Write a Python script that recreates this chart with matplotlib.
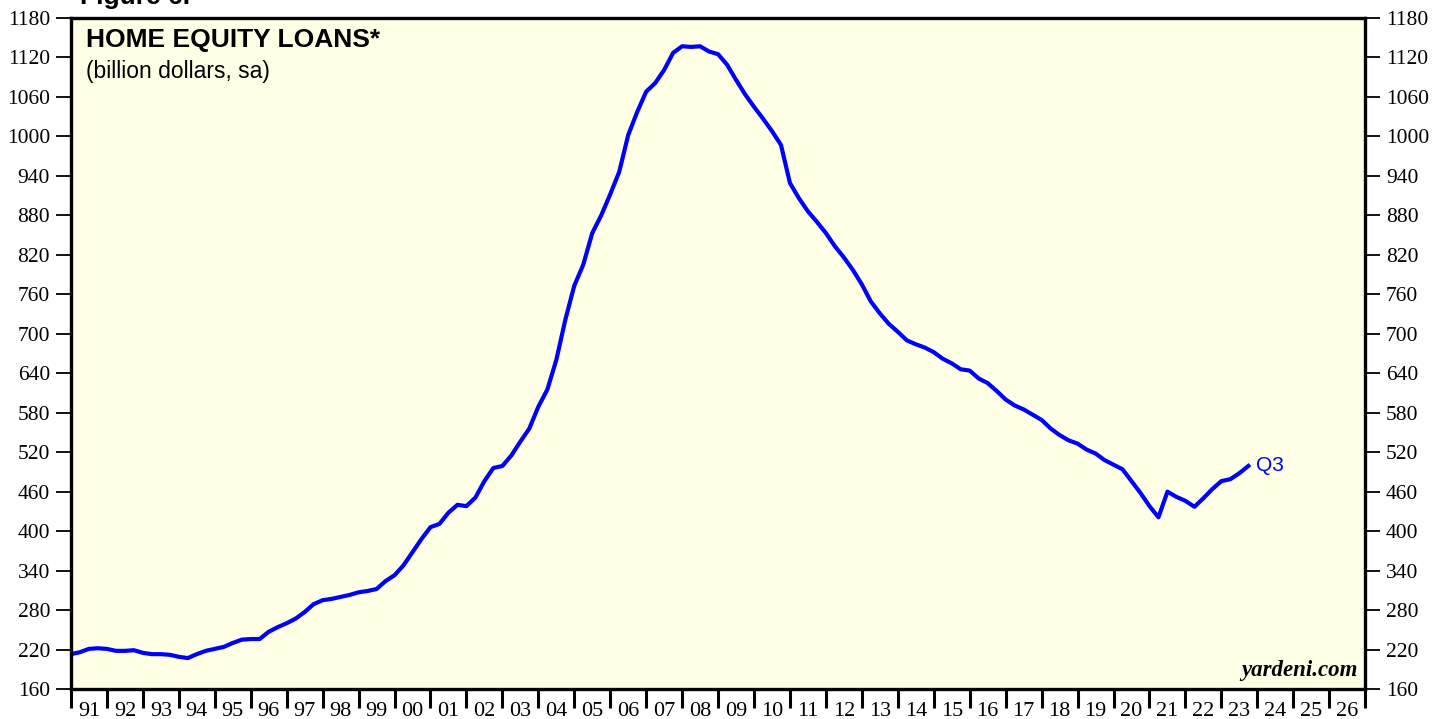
import matplotlib
matplotlib.use('Agg')
import matplotlib.pyplot as plt
import numpy as np
import pandas as pd

# quarterly home equity loans, billion dollars (1990Q4 .. 2023Q3)
first_quarter = '1990Q4'
last_quarter = '2023Q3'
loans = [
    213, 216, 221, 222, 221, 218, 218, 219, 215, 213, 213, 212,
    209, 207, 213, 218, 221, 224, 230, 235, 236, 236, 247, 254,
    260, 267, 277, 289, 295, 297, 300, 303, 307, 309, 312, 324,
    333, 348, 368, 388, 406, 411, 428, 440, 438, 451, 476, 496,
    499, 515, 536, 556, 589, 615, 660, 721, 773, 805, 853, 880,
    912, 946, 1002, 1037, 1068, 1081, 1101, 1127, 1137, 1136, 1137, 1129,
    1125, 1109, 1086, 1064, 1045, 1027, 1008, 987, 929, 906, 886, 870,
    853, 833, 816, 797, 775, 749, 731, 715, 703, 690, 684, 679,
    672, 662, 655, 646, 644, 632, 625, 613, 600, 591, 585, 577,
    569, 556, 546, 538, 533, 524, 518, 508, 501, 494, 476, 458,
    438, 421, 460, 452, 446, 437, 450, 464, 476, 479, 488, 499,
]

year_labels = ['91', '92', '93', '94', '95', '96', '97', '98', '99', '00',
               '01', '02', '03', '04', '05', '06', '07', '08', '09', '10',
               '11', '12', '13', '14', '15', '16', '17', '18', '19', '20',
               '21', '22', '23', '24', '25', '26']
first_year = 1991

y_ticks = list(range(160, 1181, 60))

# quarter-end positions as decimal years
periods = pd.period_range(first_quarter, last_quarter, freq='Q')
dates = np.array([p.year + p.quarter / 4 for p in periods])

fig = plt.figure(figsize=(14.48, 7.19), dpi=100)
ax = fig.add_axes([0.049, 0.0417, 0.8938, 0.9333])
ax.set_facecolor('#FFFFE6')

ax.plot(dates, loans, color='#0000FF', lw=3.0, solid_joinstyle='round')
ax.text(dates[-1] + 0.2, loans[-1], 'Q3', color='#0000FF', fontsize=15,
        family='Liberation Sans', va='center', ha='left')

n_years = len(year_labels)
ax.set_xlim(first_year, first_year + n_years)
ax.set_ylim(160, 1180)

ax.set_xticks(np.arange(first_year, first_year + n_years + 1))
ax.set_xticklabels([])
ax.set_xticks(np.arange(first_year, first_year + n_years) + 0.5, minor=True)
ax.set_xticklabels(year_labels, minor=True, family='Liberation Serif', fontsize=16)
ax.tick_params(axis='x', which='major', direction='out', length=14, width=2.2)
ax.tick_params(axis='x', which='minor', length=0, pad=9)

ax.set_yticks(y_ticks)
ax.set_yticklabels([str(v) for v in y_ticks], family='Liberation Serif', fontsize=15.5)
ax.tick_params(axis='y', which='major', direction='out', length=11, width=1.3,
               left=True, right=True, labelleft=True, labelright=True, pad=4)

for s in ax.spines.values():
    s.set_linewidth(2.4)
    s.set_color('black')

ax.text(0.012, 0.985, 'HOME EQUITY LOANS*', transform=ax.transAxes,
        family='Liberation Sans', fontweight='bold', fontsize=19, va='top', ha='left')
ax.text(0.012, 0.937, '(billion dollars, sa)', transform=ax.transAxes,
        family='Liberation Sans', fontsize=16.5, va='top', ha='left')
ax.text(0.994, 0.012, 'yardeni.com', transform=ax.transAxes,
        family='Liberation Serif', fontweight='bold', style='italic', fontsize=16.5,
        va='bottom', ha='right')

fig.text(0.0552, 1 - 4 / 719, 'Figure 6.', family='Liberation Sans', fontweight='bold',
         fontsize=19, va='baseline', ha='left')

fig.savefig('out.png', dpi=100)
